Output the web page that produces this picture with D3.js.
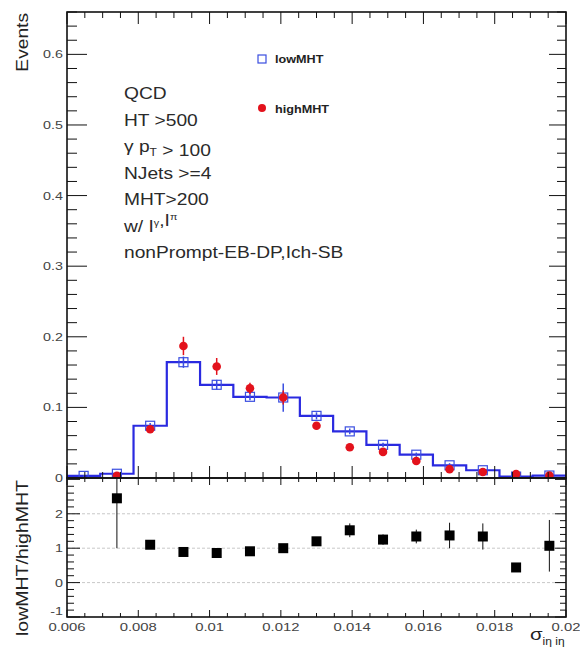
<!DOCTYPE html>
<html><head><meta charset="utf-8">
<script src="https://cdn.jsdelivr.net/npm/d3@7/dist/d3.min.js"></script>
<style>body{margin:0;background:#fff}svg{display:block;font-family:"Liberation Sans",Arial,sans-serif}</style>
</head><body><svg id="c" width="580" height="650"></svg>
<script>
// ---- data ----
const binEdgeMin = 0.006, binEdgeMax = 0.02, nBins = 15;
const binIndex = d3.range(nBins);
const lowMHT   = [0.003,0.006,0.074,0.164,0.132,0.115,0.114,0.088,0.066,0.047,0.033,0.018,0.011,0.002,0.0035];
const lowErr   = [0.001,0.002,0.004,0.008,0.007,0.005,0.02,0.005,0.004,0.003,0.003,0.003,0.002,0.001,0.001];
const highMHT  = [null,0.003,0.069,0.187,0.158,0.127,0.114,0.074,0.0435,0.037,0.024,0.0125,0.0085,0.0057,0.0035];
const highErr  = [null,0.003,0.005,0.013,0.012,0.008,0.01,0.005,0.004,0.003,0.003,0.002,0.002,0.002,0.002];
const ratio    = [null,2.45,1.1,0.89,0.86,0.91,1.0,1.2,1.52,1.25,1.34,1.37,1.34,0.44,1.07];
const ratioErr = [null,1.45,0.05,0.04,0.04,0.05,0.1,0.06,0.2,0.15,0.2,0.37,0.38,0.12,0.75];
const xTickLabels = ["0.006","0.008","0.01","0.012","0.014","0.016","0.018","0.02"];
const yTopTicks = [0,0.1,0.2,0.3,0.4,0.5,0.6];
const yTopLabels = ["0","0.1","0.2","0.3","0.4","0.5","0.6"];
const yBotTicks = [-1,0,1,2];
const yBotLabels = ["-1","0","1","2"];
const gridLines = [0,1,2];
const infoLines = ["QCD","HT >500","γ p_T > 100","NJets >=4","MHT>200","w/ I^γ,I^π","nonPrompt-EB-DP,Ich-SB"];
const legendItems = ["lowMHT","highMHT"];

// ---- layout ----
const L = 67, R = 566, T = 12, M = 478, B = 617;
const svg = d3.select("#c");
const bw = (binEdgeMax-binEdgeMin)/nBins;
const x = d3.scaleLinear().domain([binEdgeMin,binEdgeMax]).range([L,R]);
const yT = d3.scaleLinear().domain([0,0.66]).range([M,T]);
const yB = d3.scaleLinear().domain([-1,3.04]).range([B,M]);
const centre = i => binEdgeMin + (i+0.5)*bw;

svg.append("clipPath").attr("id","clipT").append("rect").attr("x",L).attr("y",T).attr("width",R-L).attr("height",M-T);
svg.append("clipPath").attr("id","clipB").append("rect").attr("x",L).attr("y",M).attr("width",R-L).attr("height",B-M);

// helper: horizontally stretched text (reference glyphs are wider than the font metrics)
function stext(g, px, py, sx, rot){
  const t = g.append("text");
  t.attr("transform", `translate(${px},${py})` + (rot?` rotate(${rot})`:"") + ` scale(${sx},1)`);
  return t;
}

// grid lines lower panel
svg.append("g").selectAll("line").data(gridLines).join("line")
  .attr("x1",L).attr("x2",R).attr("y1",d=>yB(d)).attr("y2",d=>yB(d))
  .attr("stroke","#c8c8c8").attr("stroke-width",1).attr("stroke-dasharray","3,2");

// ---- top panel ----
const gT = svg.append("g").attr("clip-path","url(#clipT)");
const stepPts = binIndex.map(i=>[binEdgeMin+i*bw, lowMHT[i]]);
stepPts.push([binEdgeMax, lowMHT[nBins-1]]);
gT.append("path").attr("d", d3.line().x(d=>x(d[0])).y(d=>yT(d[1])).curve(d3.curveStepAfter)(stepPts))
  .attr("fill","none").attr("stroke","#2a2ae0").attr("stroke-width",2.2);
gT.append("g").selectAll("line").data(binIndex).join("line")
  .attr("x1",i=>x(centre(i))).attr("x2",i=>x(centre(i)))
  .attr("y1",i=>yT(lowMHT[i]-lowErr[i])).attr("y2",i=>yT(lowMHT[i]+lowErr[i]))
  .attr("stroke","#3a4ee0").attr("stroke-width",1.5);
gT.append("g").selectAll("rect").data(binIndex).join("rect")
  .attr("x",i=>x(centre(i))-4.5).attr("y",i=>yT(lowMHT[i])-4.5).attr("width",9).attr("height",9)
  .attr("fill","none").attr("stroke","#3a4ee0").attr("stroke-width",1.2);
const hi = binIndex.filter(i=>highMHT[i]!==null);
gT.append("g").selectAll("line").data(hi).join("line")
  .attr("x1",i=>x(centre(i))).attr("x2",i=>x(centre(i)))
  .attr("y1",i=>yT(highMHT[i]-highErr[i])).attr("y2",i=>yT(highMHT[i]+highErr[i]))
  .attr("stroke","#e3121c").attr("stroke-width",1.5);
gT.append("g").selectAll("circle").data(hi).join("circle")
  .attr("cx",i=>x(centre(i))).attr("cy",i=>yT(highMHT[i])).attr("r",4.3).attr("fill","#e3121c");

// ---- bottom panel ----
const gB = svg.append("g").attr("clip-path","url(#clipB)");
const ri = binIndex.filter(i=>ratio[i]!==null);
gB.append("g").selectAll("line").data(ri).join("line")
  .attr("x1",i=>x(centre(i))).attr("x2",i=>x(centre(i)))
  .attr("y1",i=>yB(ratio[i]-ratioErr[i])).attr("y2",i=>yB(ratio[i]+ratioErr[i]))
  .attr("stroke","#111").attr("stroke-width",1);
gB.append("g").selectAll("rect").data(ri).join("rect")
  .attr("x",i=>x(centre(i))-5).attr("y",i=>yB(ratio[i])-5).attr("width",10).attr("height",10)
  .attr("fill","#000");

// ---- axes / ticks ----
const ax = svg.append("g").attr("stroke","#111").attr("stroke-width",1);
function ticks(vals, fn){ ax.append("g").selectAll("line").data(vals).join("line").each(function(d){ const c=fn(d); d3.select(this).attr("x1",c[0]).attr("y1",c[1]).attr("x2",c[2]).attr("y2",c[3]); }); }
const xMinor = d3.range(0,29).map(k=>binEdgeMin+k*0.0005);
const isMajX = v => Math.abs(Math.round((v-binEdgeMin)/0.002)*0.002-(v-binEdgeMin))<1e-9;
ticks(xMinor, v=>{const l=isMajX(v)?12:6; return [x(v),T,x(v),T+l];});
ticks(xMinor, v=>{const l=isMajX(v)?12:6; return [x(v),M,x(v),M-l];});
ticks(xMinor, v=>{const l=isMajX(v)?7:4; return [x(v),M,x(v),M+l];});
ticks(xMinor, v=>{const l=isMajX(v)?7:4; return [x(v),B,x(v),B-l];});
const yTMinor = d3.range(0,34).map(k=>k*0.02);
const isMajT = v => Math.abs(Math.round(v/0.1)*0.1-v)<1e-9;
ticks(yTMinor, v=>{const l=isMajT(v)?20:10; return [L,yT(v),L+l,yT(v)];});
ticks(yTMinor, v=>{const l=isMajT(v)?17:9; return [R,yT(v),R-l,yT(v)];});
const yBMinor = d3.range(0,21).map(k=>-1+k*0.2);
const isMajB = v => Math.abs(Math.round(v)-v)<1e-9;
ticks(yBMinor, v=>{const l=isMajB(v)?13:7; return [L,yB(v),L+l,yB(v)];});
ticks(yBMinor, v=>{const l=isMajB(v)?11:6; return [R,yB(v),R-l,yB(v)];});
svg.append("rect").attr("x",L).attr("y",T).attr("width",R-L).attr("height",M-T).attr("fill","none").attr("stroke","#111").attr("stroke-width",1.6);
svg.append("rect").attr("x",L).attr("y",M).attr("width",R-L).attr("height",B-M).attr("fill","none").attr("stroke","#111").attr("stroke-width",1.6);

// tick labels
const lab = svg.append("g").attr("font-size",11).attr("fill","#444");
yTopTicks.forEach((d,i)=> stext(lab,63,yT(d)+4,1.3).attr("text-anchor","end").text(yTopLabels[i]));
yBotTicks.forEach((d,i)=> stext(lab,63,(d===-1?615:yB(d)+4),1.3).attr("text-anchor","end").text(yBotLabels[i]));
xTickLabels.forEach(d=> stext(lab,x(+d),631,1.35).attr("text-anchor","middle").text(d));

// axis titles
stext(svg,28,13,1.2,-90).attr("text-anchor","end").attr("font-size",16).attr("fill","#222").text("Events");
stext(svg,28,480,1.22,-90).attr("text-anchor","end").attr("font-size",16).attr("fill","#222").text("lowMHT/highMHT");
const xt = stext(svg,530,640,1.2).attr("font-size",17).attr("fill","#222");
xt.append("tspan").text("σ");
xt.append("tspan").attr("dy",5).attr("font-size",10).text("iη iη");

// info text
const info = svg.append("g").attr("font-size",16).attr("fill","#2a2a2a");
infoLines.forEach((s,k)=>{
  const t = stext(info,124,99+k*26.5,1.2);
  const parts = s.split(/(_T|\^γ|\^π)/);
  parts.forEach(p=>{
    if(p==="_T"){ t.append("tspan").attr("dy",4).attr("font-size",10).text("T"); t.append("tspan").attr("dy",-4).text(""); }
    else if(p==="^γ"||p==="^π"){ t.append("tspan").attr("dy",-6).attr("font-size",9).text(p.slice(1)); t.append("tspan").attr("dy",6).text(""); }
    else if(p) t.append("tspan").text(p);
  });
});

// legend
const lg = svg.append("g");
lg.append("rect").attr("x",258).attr("y",55).attr("width",8).attr("height",8).attr("fill","none").attr("stroke","#3a4ee0").attr("stroke-width",1.2);
lg.append("circle").attr("cx",262).attr("cy",108).attr("r",4).attr("fill","#e3121c");
legendItems.forEach((d,i)=> stext(lg,275,63+i*50,1.15).attr("font-size",11).attr("font-weight","bold").attr("fill","#222").text(d));
</script></body></html>
